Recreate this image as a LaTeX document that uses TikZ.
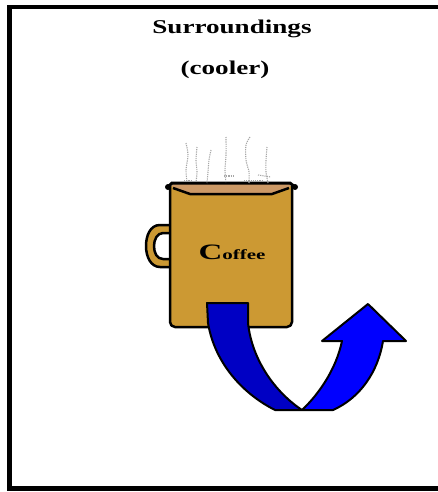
\documentclass[tikz,border=0pt]{standalone}
\usepackage{graphicx}
\usepackage{fontspec}
\setmainfont{Liberation Serif}
\usetikzlibrary{calc}
\definecolor{MugBrown}{HTML}{CC9933}
\definecolor{CoffeeTan}{HTML}{CC9966}
\definecolor{HeatBlue}{HTML}{0000FF}
\definecolor{HeatDark}{HTML}{0000C4}
\definecolor{SteamGray}{HTML}{A6A6A6}

\tikzset{
  mugline/.style={line width=2.5pt, line join=round},
  steam/.style={SteamGray, dash pattern=on 1.2pt off 1pt, line width=1.1pt},
  heading/.style={anchor=base, font=\bfseries\fontsize{19.5}{20}\selectfont},
}

\begin{document}
\begin{tikzpicture}[x=1pt,y=-1pt]
  \useasboundingbox (0,0) rectangle (438,492);

  % Surroundings frame (runs off to the right)
  \draw[line width=4.5pt] (438,7) -- (9.5,7) -- (9.5,488.5) -- (438,488.5);

  % Labels
  \node[heading] (surr) at (232,34) {\scalebox{1.39}[1]{Surroundings}};
  \node[heading] (cool) at (225,75) {\scalebox{1.39}[1]{(cooler)}};

  % Handle
  \draw[mugline,fill=MugBrown] (170,225) -- (160,225)
    .. controls (150,225) and (146,236) .. (146,246)
    .. controls (146,257) and (151,267) .. (160,267) -- (170,267);
  \draw[mugline,fill=white] (170,233) -- (163,233)
    .. controls (157,233) and (154,240) .. (154,246)
    .. controls (154,253) and (157,259) .. (163,259) -- (170,259);

  % Mug body
  \draw[mugline,fill=MugBrown,rounded corners=5] (170,186) -- (170,327)
    -- (292,327) -- (292,186);

  % Coffee surface and rim
  \fill[CoffeeTan] (171,184) -- (291,184) -- (289,188) -- (272,194)
    -- (190,194) -- (173,188) -- cycle;
  \draw[mugline] (173,188) -- (190,194) -- (272,194) -- (289,188);
  \draw[line width=3pt,line cap=round] (168,187) -- (172,183) -- (290,183) -- (295,187);
  \fill (168,187) circle (3);
  \fill (295,187) circle (3);

  % Steam
  \draw[steam] plot[smooth] coordinates {(186,143) (188,155) (186,170) (187,182)};
  \draw[steam] plot[smooth] coordinates {(197,147) (196,160) (197,172) (196,182)};
  \draw[steam] plot[smooth] coordinates {(211,150) (209,160) (208,172) (207,183)};
  \draw[steam] plot[smooth] coordinates {(226,137) (226,155) (225,170) (226,183)};
  \draw[steam] (224,176) -- (233,176);
  \draw[steam] plot[smooth] coordinates {(250,137) (246,145) (246,160) (249,172) (249,183)};
  \draw[steam] plot[smooth] coordinates {(267,147) (266,160) (266,172) (268,183)};
  \draw[steam] (244,181) -- (262,181);
  \draw[steam] (258,175) -- (271,177);
  \draw[steam] (184,181) -- (192,181);

  % Heat flow arrow
  \fill[HeatDark] (207,303) -- (248,303) -- (248,323)
    .. controls (252,360) and (275,392) .. (302,410) -- (275,410)
    .. controls (245,395) and (215,365) .. (208,323) -- cycle;
  \fill[HeatBlue] (302,410) .. controls (318,395) and (336,370) .. (342,341)
    -- (322,341) -- (368,304) -- (406,341) -- (383,341)
    .. controls (378,372) and (360,398) .. (333,410) -- cycle;
  \draw[line width=2pt,line join=round] (207,303) -- (248,303) -- (248,323)
    .. controls (252,360) and (275,392) .. (302,410)
    .. controls (318,395) and (336,370) .. (342,341)
    -- (322,341) -- (368,304) -- (406,341) -- (383,341)
    .. controls (378,372) and (360,398) .. (333,410) -- (275,410)
    .. controls (245,395) and (215,365) .. (208,323) -- cycle;

  % Mug label
  \node[anchor=base,font=\bfseries\fontsize{14}{14}\selectfont] (brand) at (232,259)
    {\scalebox{1.5}[1]{{\fontsize{22}{22}\selectfont C}offee}};
\end{tikzpicture}
\end{document}
